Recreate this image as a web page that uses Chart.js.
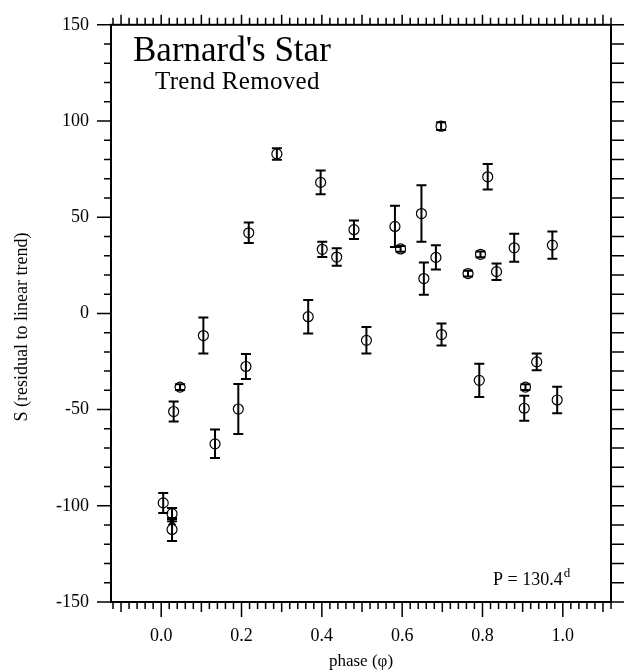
<!DOCTYPE html>
<html>
<head>
<meta charset="utf-8">
<script src="https://cdn.jsdelivr.net/npm/chart.js@4.4.1/dist/chart.umd.min.js"></script>
<style>
  html, body { margin: 0; padding: 0; background: #fff; }
  #wrap { width: 626px; height: 672px; }
</style>
</head>
<body>
<div id="wrap"><canvas id="chart" width="626" height="672"></canvas></div>
<script>
// phase, residual S and its error (half length of the bar)
const phase = [
  0.005, 0.027, 0.027, 0.031, 0.047, 0.105, 0.134, 0.192, 0.211, 0.218,
  0.288, 0.366, 0.397, 0.401, 0.437, 0.480, 0.511, 0.582, 0.596, 0.648,
  0.654, 0.684, 0.697, 0.698, 0.764, 0.792, 0.795, 0.813, 0.835, 0.879,
  0.904, 0.907, 0.935, 0.974, 0.986
];
const residual = [
  -98.5, -104.1, -112.3, -51.0, -38.3, -11.5, -67.8, -49.7, -27.6, 41.9,
  82.9, -1.7, 68.1, 33.3, 29.3, 43.5, -14.0, 45.2, 33.5, 51.9,
  18.1, 29.1, 97.3, -11.0, 20.7, -34.8, 30.7, 71.0, 21.7, 34.1,
  -49.3, -38.3, -25.2, 35.5, -45.0
];
const errors = [
  5.2, 3.0, 6.0, 5.2, 1.5, 9.4, 7.4, 13.0, 6.5, 5.3,
  3.0, 8.7, 6.2, 4.0, 4.5, 4.8, 6.9, 10.7, 1.5, 14.7,
  8.4, 6.3, 2.0, 5.7, 1.5, 8.6, 1.5, 6.6, 4.3, 7.3,
  6.5, 1.5, 4.3, 7.1, 6.9
];
// the single star-marked observation
const starPhase = [0.027];
const starResidual = [-108.1];

const xTickLabels = ['0.0', '0.2', '0.4', '0.6', '0.8', '1.0'];
const yTickLabels = ['-150', '-100', '-50', '0', '50', '100', '150'];

const serif = "'Liberation Serif', 'Times New Roman', serif";

const decor = {
  id: 'decor',
  beforeDatasetsDraw(chart) {
    const {ctx, scales: {x, y}} = chart;
    ctx.save();
    ctx.strokeStyle = '#000';
    ctx.lineWidth = 2;
    phase.forEach((p, i) => {
      const px = x.getPixelForValue(p);
      const top = y.getPixelForValue(residual[i] + errors[i]);
      const bot = y.getPixelForValue(residual[i] - errors[i]);
      ctx.beginPath();
      ctx.moveTo(px, top); ctx.lineTo(px, bot);
      ctx.moveTo(px - 5, top); ctx.lineTo(px + 5, top);
      ctx.moveTo(px - 5, bot); ctx.lineTo(px + 5, bot);
      ctx.stroke();
    });
    ctx.restore();
  },
  afterDraw(chart) {
    const {ctx, chartArea: a, scales: {x, y}} = chart;
    ctx.save();
    ctx.strokeStyle = '#000';
    ctx.fillStyle = '#000';

    // frame
    ctx.lineWidth = 2;
    ctx.strokeRect(a.left, a.top, a.right - a.left, a.bottom - a.top);

    // tick marks, all outside the frame
    ctx.lineWidth = 1.5;
    ctx.beginPath();
    x.ticks.forEach(t => {
      const k = Math.round(t.value * 100);
      const px = x.getPixelForValue(t.value);
      const lb = k % 20 === 0 ? 15 : (k % 10 === 0 ? 10 : 7);
      const lt = k % 10 === 0 ? 10 : 7;
      ctx.moveTo(px, a.bottom); ctx.lineTo(px, a.bottom + lb);
      ctx.moveTo(px, a.top); ctx.lineTo(px, a.top - lt);
    });
    y.ticks.forEach(t => {
      const k = Math.round(t.value);
      const py = y.getPixelForValue(t.value);
      const ll = k % 50 === 0 ? 14 : 7;
      ctx.moveTo(a.left, py); ctx.lineTo(a.left - ll, py);
      ctx.moveTo(a.right, py); ctx.lineTo(a.right + 13, py);
    });
    ctx.stroke();

    // y axis title
    ctx.save();
    ctx.translate(22, 327);
    ctx.rotate(-Math.PI / 2);
    ctx.font = `18px ${serif}`;
    ctx.textAlign = 'center';
    ctx.textBaseline = 'middle';
    ctx.fillText('S (residual to linear trend)', 0, 0);
    ctx.restore();

    // titles inside the plot
    ctx.textAlign = 'left';
    ctx.textBaseline = 'alphabetic';
    ctx.font = `35px ${serif}`;
    ctx.fillText("Barnard's Star", a.left + 22, a.top + 36);
    ctx.font = `25px ${serif}`;
    ctx.letterSpacing = '0.3px';
    ctx.fillText('Trend Removed', a.left + 44, a.top + 64);
    ctx.letterSpacing = '0px';

    // period note with superscript d
    ctx.font = `18px ${serif}`;
    const txt = 'P = 130.4';
    const tx = a.right - 118;
    const ty = a.bottom - 17;
    ctx.fillText(txt, tx, ty);
    const w = ctx.measureText(txt).width;
    ctx.font = `13px ${serif}`;
    ctx.fillText('d', tx + w + 1, ty - 8);
    ctx.restore();
  }
};

const config = {
  type: 'scatter',
  data: {
    datasets: [
      {
        label: 'S',
        data: phase.map((p, i) => ({x: p, y: residual[i]})),
        pointStyle: 'circle',
        pointRadius: 5,
        borderColor: '#000',
        backgroundColor: 'rgba(0,0,0,0)',
        borderWidth: 1.2
      },
      {
        label: 'star',
        data: starPhase.map((p, i) => ({x: p, y: starResidual[i]})),
        pointStyle: 'star',
        pointRadius: 5,
        borderColor: '#000',
        backgroundColor: 'rgba(0,0,0,0)',
        borderWidth: 1.5
      }
    ]
  },
  options: {
    responsive: false,
    animation: false,
    layout: { padding: { top: 22, right: 2, left: 0, bottom: 0 } },
    plugins: { legend: { display: false }, tooltip: { enabled: false } },
    scales: {
      x: {
        type: 'linear',
        min: -0.125,
        max: 1.12,
        grid: { display: false },
        border: { display: false },
        ticks: {
          stepSize: 0.02,
          includeBounds: false,
          autoSkip: false,
          maxRotation: 0,
          padding: 15,
          color: '#000',
          font: { family: serif, size: 18 },
          callback: v => {
            const s = (Math.round(v * 10) / 10).toFixed(1);
            return (Math.abs(v * 10 - Math.round(v * 10)) < 1e-6 && xTickLabels.includes(s)) ? s : '';
          }
        },
        title: {
          display: true,
          text: 'phase (\u03c6)',
          color: '#000',
          font: { family: serif, size: 17 },
          padding: { top: 2, bottom: 0 }
        },
        afterFit: s => { s.height = 70; }
      },
      y: {
        type: 'linear',
        min: -150,
        max: 150,
        grid: { display: false },
        border: { display: false },
        ticks: {
          stepSize: 10,
          autoSkip: false,
          padding: 14,
          color: '#000',
          font: { family: serif, size: 18 },
          callback: v => {
            const s = String(Math.round(v));
            return yTickLabels.includes(s) && Math.round(v) % 50 === 0 ? s : '';
          }
        },
        afterFit: s => { s.width = 111; }
      }
    }
  },
  plugins: [decor]
};

const myChart = new Chart(document.getElementById('chart'), config);
</script>
</body>
</html>
